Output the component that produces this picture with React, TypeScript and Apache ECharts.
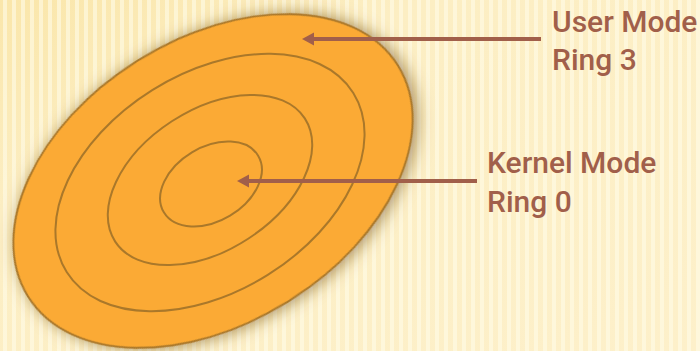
import React, { useEffect, useRef } from "react";
import * as echarts from "echarts";

// Rings, outermost first (centre, semi-axes, tilt in degrees)
const ringCx = [213, 210, 210, 211];
const ringCy = [181, 182.5, 180, 184];
const ringRx = [218, 169, 113, 55];
const ringRy = [142, 109, 70, 37];
const ringTilt = [32, 32, 33, 31];

// Callouts
const labelLines = [
  ["User Mode", "Ring 3"],
  ["Kernel Mode", "Ring 0"],
];
const labelX = [552, 487];
const labelY = [21, 162.5];
const arrowFromX = [541, 477];
const arrowToX = [302, 237];
const arrowY = [39, 181];

const TEXT_COLOR = "#A15F4A";
const FILL = "#FBAA35";
const RING_STROKE = "#AA782A";

export default function App() {
  const ref = useRef<HTMLDivElement>(null);
  useEffect(() => {
    if (!ref.current) return;
    const chart = echarts.init(ref.current, undefined, { renderer: "svg" });
    const elements: any[] = [];

    // background
    elements.push({
      type: "rect",
      shape: { x: 0, y: 0, width: 700, height: 351 },
      style: {
        fill: new echarts.graphic.LinearGradient(0, 0, 1, 1, [
          { offset: 0, color: "#FAE6AA" },
          { offset: 0.3, color: "#FCEEC3" },
          { offset: 1, color: "#FDF0CA" },
        ]),
      },
      silent: true,
    });
    for (let x = 3; x < 700; x += 9) {
      elements.push({
        type: "rect",
        shape: { x, y: 0, width: 4, height: 351 },
        style: { fill: "rgba(255,251,232,0.6)" },
        silent: true,
      });
    }

    // rings
    ringCx.forEach((cx, i) => {
      const outer = i === 0;
      elements.push({
        type: "ellipse",
        x: cx,
        y: ringCy[i],
        rotation: (ringTilt[i] * Math.PI) / 180,
        shape: { cx: 0, cy: 0, rx: ringRx[i], ry: ringRy[i] },
        style: {
          fill: FILL,
          stroke: RING_STROKE,
          lineWidth: 2,
          ...(outer
            ? {
                shadowBlur: 16,
                shadowColor: "rgba(110,70,20,0.6)",
                shadowOffsetX: 3,
                shadowOffsetY: 2,
              }
            : {}),
        },
        silent: true,
      });
    });

    // arrows
    arrowY.forEach((y, i) => {
      elements.push({
        type: "line",
        shape: { x1: arrowFromX[i], y1: y, x2: arrowToX[i] + 10, y2: y },
        style: { stroke: TEXT_COLOR, lineWidth: 4 },
        silent: true,
      });
      const tx = arrowToX[i];
      elements.push({
        type: "polygon",
        shape: {
          points: [
            [tx, y],
            [tx + 12, y - 6.5],
            [tx + 12, y + 6.5],
          ],
        },
        style: { fill: TEXT_COLOR },
        silent: true,
      });
    });

    // labels
    labelLines.forEach((lines, i) => {
      lines.forEach((t, j) => {
        elements.push({
          type: "text",
          x: labelX[i],
          y: labelY[i] + j * 38.5,
          style: {
            text: t,
            fill: TEXT_COLOR,
            font: "500 30px Roboto",
            align: "left",
            verticalAlign: "middle",
          },
          silent: true,
        });
      });
    });

    chart.setOption({
      animation: false,
      graphic: { elements },
    });
    return () => chart.dispose();
  }, []);
  return (
    <div
      ref={ref}
      style={{ position: "absolute", left: 0, top: 0, width: 700, height: 351 }}
    />
  );
}
